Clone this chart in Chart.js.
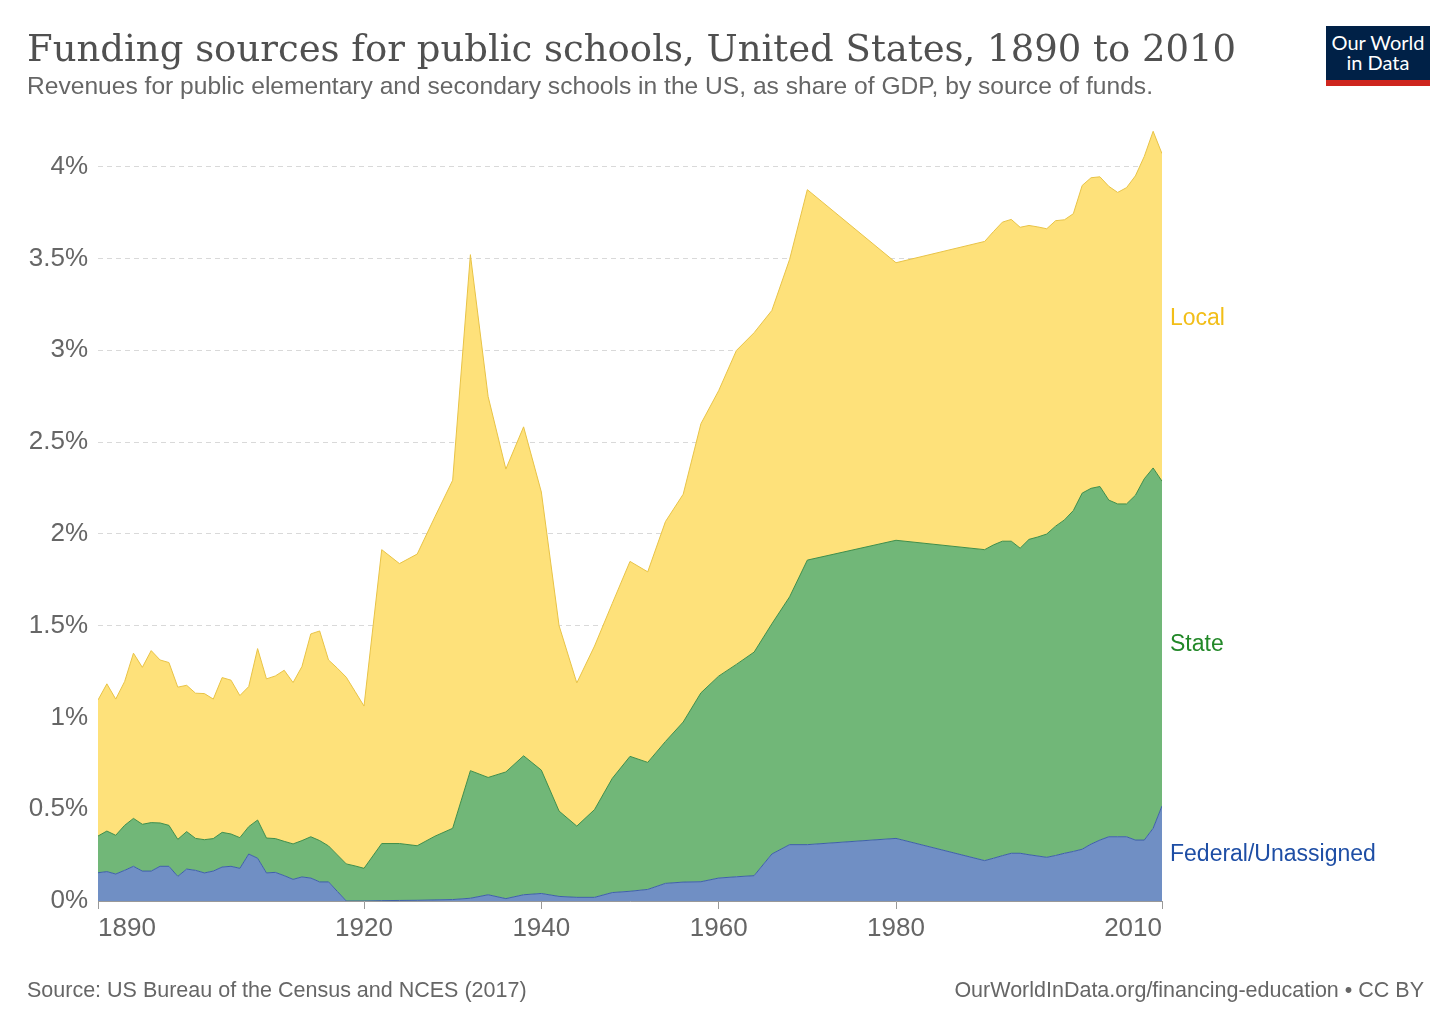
<!DOCTYPE html>
<html>
<head>
<meta charset="utf-8">
<title>Funding sources for public schools</title>
<script src="https://cdn.jsdelivr.net/npm/chart.js@4.4.1/dist/chart.umd.min.js"></script>
<style>
  body { margin: 0; background: #fff; width: 1456px; height: 1028px; overflow: hidden; position: relative; font-family: 'Liberation Sans', Arial, sans-serif; }
  #title { position: absolute; left: 27px; top: 30px; font-family: 'DejaVu Serif', serif; font-size: 37px; line-height: 1; color: #505050; white-space: nowrap; }
  #subtitle { position: absolute; left: 27px; top: 74px; font-size: 24.6px; line-height: 1; color: #666; white-space: nowrap; }
  #logo { position: absolute; left: 1326px; top: 26px; width: 104px; height: 60px; background: #002147; color: #fff; font-family: Lato, sans-serif; font-size: 20px; line-height: 20px; text-align: center; box-sizing: border-box; padding-top: 6px; border-bottom: 6px solid #ce261e; }
  #source { position: absolute; left: 27px; top: 980px; font-size: 21.5px; line-height: 1; color: #666; white-space: nowrap; }
  #license { position: absolute; right: 32px; top: 980px; font-size: 21.5px; line-height: 1; color: #666; white-space: nowrap; }
  #chart { position: absolute; left: 0; top: 0; }
</style>
</head>
<body>
<canvas id="chart" width="1456" height="1028"></canvas>
<div id="title">Funding sources for public schools, United States, 1890 to 2010</div>
<div id="subtitle">Revenues for public elementary and secondary schools in the US, as share of GDP, by source of funds.</div>
<div id="logo">Our World<br>in Data</div>
<div id="source">Source: US Bureau of the Census and NCES (2017)</div>
<div id="license">OurWorldInData.org/financing-education • CC BY</div>
<script>
// Funding sources chart (share of GDP, %)

const years = [
  1890, 1891, 1892, 1893, 1894, 1895, 1896, 1897, 1898, 1899,
  1900, 1901, 1902, 1903, 1904, 1905, 1906, 1907, 1908, 1909,
  1910, 1911, 1912, 1913, 1914, 1915, 1916, 1917, 1918, 1919,
  1920, 1922, 1924, 1926, 1928, 1930, 1932, 1934, 1936, 1938,
  1940, 1942, 1944, 1946, 1948, 1950, 1952, 1954, 1956, 1958,
  1960, 1962, 1964, 1966, 1968, 1970, 1980,
  1990, 1991, 1992, 1993, 1994, 1995, 1996, 1997, 1998, 1999,
  2000, 2001, 2002, 2003, 2004, 2005, 2006, 2007, 2008, 2009, 2010
];

const federal = [
  0.154, 0.160, 0.147, 0.167, 0.189, 0.163, 0.163, 0.189, 0.189, 0.134,
  0.174, 0.167, 0.153, 0.163, 0.185, 0.189, 0.178, 0.256, 0.233, 0.153,
  0.156, 0.138, 0.118, 0.131, 0.125, 0.104, 0.104, 0.052, 0.000, 0.000,
  0.000, 0.002, 0.003, 0.004, 0.006, 0.008, 0.015, 0.034, 0.013, 0.034,
  0.041, 0.025, 0.020, 0.020, 0.046, 0.053, 0.063, 0.096, 0.103, 0.105,
  0.125, 0.132, 0.138, 0.256, 0.307, 0.307, 0.341,
  0.220, 0.233, 0.247, 0.260, 0.260, 0.252, 0.245, 0.238, 0.248, 0.260,
  0.270, 0.282, 0.310, 0.332, 0.350, 0.350, 0.350, 0.332, 0.332, 0.396, 0.518
];

const state = [
  0.200, 0.221, 0.211, 0.245, 0.261, 0.255, 0.264, 0.236, 0.223, 0.202,
  0.204, 0.174, 0.181, 0.177, 0.189, 0.176, 0.167, 0.149, 0.208, 0.190,
  0.184, 0.187, 0.193, 0.198, 0.225, 0.225, 0.196, 0.199, 0.202, 0.191,
  0.178, 0.311, 0.310, 0.297, 0.347, 0.388, 0.695, 0.639, 0.690, 0.757,
  0.672, 0.465, 0.388, 0.478, 0.622, 0.735, 0.692, 0.773, 0.872, 1.029,
  1.100, 1.157, 1.218, 1.254, 1.350, 1.550, 1.624,
  1.694, 1.707, 1.713, 1.700, 1.662, 1.718, 1.738, 1.761, 1.794, 1.816,
  1.857, 1.940, 1.938, 1.926, 1.834, 1.813, 1.813, 1.878, 1.968, 1.963, 1.769
];

const local = [
  0.741, 0.802, 0.742, 0.783, 0.900, 0.855, 0.937, 0.888, 0.887, 0.829,
  0.797, 0.791, 0.796, 0.760, 0.843, 0.838, 0.774, 0.763, 0.934, 0.867,
  0.886, 0.932, 0.879, 0.948, 1.105, 1.142, 1.013, 1.017, 1.017, 0.950,
  0.884, 1.601, 1.525, 1.589, 1.740, 1.896, 2.811, 2.075, 1.650, 1.792,
  1.515, 1.010, 0.780, 0.891, 0.953, 1.062, 1.038, 1.198, 1.241, 1.466,
  1.555, 1.710, 1.740, 1.707, 1.838, 2.018, 1.512,
  1.679, 1.707, 1.738, 1.753, 1.748, 1.710, 1.689, 1.663, 1.664, 1.635,
  1.617, 1.676, 1.692, 1.687, 1.709, 1.697, 1.723, 1.740, 1.756, 1.834, 1.784
];

const xTicks = [1890, 1920, 1940, 1960, 1980, 2010];
const yTicks = [0, 0.5, 1, 1.5, 2, 2.5, 3, 3.5, 4];

function toPoints(values) {
  return years.map(function(year, i) { return { x: year, y: values[i] }; });
}

// Series names drawn at the right end of each band
const endLabels = {
  id: 'endLabels',
  afterDatasetsDraw: function(chart) {
    const ctx = chart.ctx;
    let base = chart.scales.y.getPixelForValue(0);
    chart.data.datasets.forEach(function(ds, i) {
      const points = chart.getDatasetMeta(i).data;
      const top = points[points.length - 1].y;
      ctx.save();
      ctx.font = '23px "Liberation Sans", Arial, sans-serif';
      ctx.fillStyle = ds.labelColor;
      ctx.textBaseline = 'middle';
      ctx.fillText(ds.label, chart.chartArea.right + 8, (base + top) / 2 + 1);
      ctx.restore();
      base = top;
    });
  }
};

Chart.defaults.font.family = '"Liberation Sans", Arial, sans-serif';

const fundingChart = new Chart(document.getElementById('chart'), {
  type: 'line',
  data: {
    datasets: [{
      label: 'Federal/Unassigned',
      data: toPoints(federal),
      fill: 'origin',
      backgroundColor: 'rgb(112, 143, 196)',
      borderColor: 'rgb(62, 96, 168)',
      labelColor: 'rgb(30, 78, 165)'
    }, {
      label: 'State',
      data: toPoints(state),
      fill: '-1',
      backgroundColor: 'rgb(113, 183, 120)',
      borderColor: 'rgb(64, 142, 72)',
      labelColor: 'rgb(34, 136, 40)'
    }, {
      label: 'Local',
      data: toPoints(local),
      fill: '-1',
      backgroundColor: 'rgb(254, 225, 122)',
      borderColor: 'rgb(232, 195, 70)',
      labelColor: 'rgb(242, 190, 24)'
    }]
  },
  options: {
    responsive: false,
    animation: false,
    layout: { padding: { left: 0, right: 294, top: 130, bottom: 77 } },
    elements: {
      point: { radius: 0 },
      line: { tension: 0, borderWidth: 1 }
    },
    plugins: {
      legend: { display: false },
      tooltip: { enabled: false }
    },
    scales: {
      x: {
        type: 'linear',
        min: 1890,
        max: 2010,
        z: 1,
        afterBuildTicks: function(axis) {
          axis.ticks = xTicks.map(function(v) { return { value: v }; });
        },
        afterFit: function(axis) { axis.height = 50; },
        ticks: {
          align: 'inner',
          autoSkip: false,
          maxRotation: 0,
          padding: 4,
          color: '#666',
          font: { size: 26 },
          callback: function(value) { return String(value); }
        },
        grid: { drawOnChartArea: false, tickLength: 8, color: '#999' },
        border: { color: '#999' }
      },
      y: {
        stacked: true,
        min: 0,
        max: 4.2,
        z: 1,
        afterBuildTicks: function(axis) {
          axis.ticks = yTicks.map(function(v) { return { value: v }; });
        },
        afterFit: function(axis) { axis.width = 98; },
        ticks: {
          padding: 10,
          color: '#666',
          font: { size: 26 },
          callback: function(value) { return value + '%'; }
        },
        grid: { drawTicks: false, color: 'rgba(0, 0, 0, 0.15)' },
        border: { display: false, dash: [5, 4] }
      }
    }
  },
  plugins: [endLabels]
});
</script>
</body>
</html>
